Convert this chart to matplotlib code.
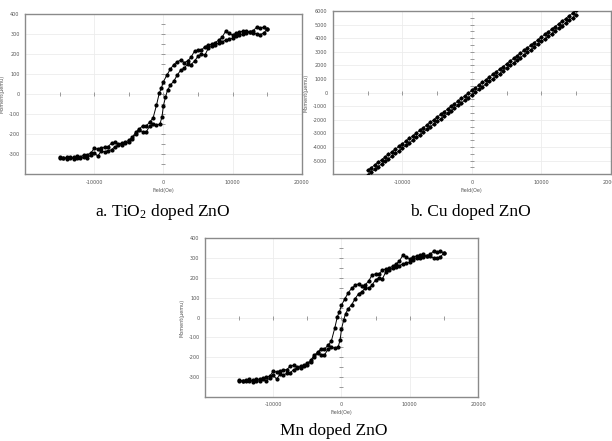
import numpy as np
import matplotlib
matplotlib.use('Agg')
from matplotlib import pyplot as plt


# hysteresis loop (TiO2 doped and Mn doped look the same in the picture)
field_up = [-15000, -14500, -14000, -13500, -13000, -12500, -12000, -11500, -11000, -10500,
            -10000, -9500, -9000, -8500, -8000, -7500, -7000, -6500, -6000, -5500,
            -5000, -4500, -4000, -3500, -3000, -2500, -2000, -1500, -1000, -500,
            -200, 0, 300, 600, 1000, 1500, 2000, 2500, 3000, 3500,
            4000, 4500, 5000, 5500, 6000, 6500, 7000, 7500, 8000, 8500,
            9000, 9500, 10000, 10500, 11000, 11500, 12000, 12500, 13000, 13500,
            14000, 14500, 15000]
moment_up = [-315, -318, -322, -312, -325, -318, -320, -312, -318, -305,
             -292, -310, -285, -288, -282, -278, -262, -255, -252, -245,
             -238, -222, -198, -180, -188, -190, -160, -148, -155, -150,
             -112, -58, -15, 20, 45, 65, 95, 120, 130, 150,
             148, 165, 190, 200, 195, 230, 240, 248, 255, 262,
             270, 275, 280, 290, 298, 300, 305, 310, 308, 300,
             298, 305, 325]

field_down = [15000, 14500, 14000, 13500, 13000, 12500, 12000, 11500, 11000, 10500,
              10000, 9500, 9000, 8500, 8000, 7500, 7000, 6500, 6000, 5500,
              5000, 4500, 4000, 3500, 3000, 2500, 2000, 1500, 1000, 500,
              0, -300, -600, -1000, -1500, -2000, -2500, -3000, -3500, -4000,
              -4500, -5000, -5500, -6000, -6500, -7000, -7500, -8000, -8500, -9000,
              -9500, -10000, -10500, -11000, -11500, -12000, -12500, -13000, -13500, -14000,
              -14500, -15000]
moment_down = [325, 335, 330, 335, 318, 310, 318, 315, 310, 305,
               295, 305, 315, 285, 270, 258, 250, 245, 238, 220,
               220, 215, 185, 165, 158, 170, 162, 148, 125, 95,
               62, 30, 5, -55, -120, -140, -160, -158, -175, -190,
               -215, -230, -240, -245, -248, -240, -245, -262, -265, -268,
               -275, -270, -295, -302, -305, -312, -310, -315, -320, -316,
               -320, -318]

# Cu doped: two almost straight parallel lines
cu_field = [-15000, -14500, -14000, -13500, -13000, -12500, -12000, -11500, -11000, -10500,
            -10000, -9500, -9000, -8500, -8000, -7500, -7000, -6500, -6000, -5500,
            -5000, -4500, -4000, -3500, -3000, -2500, -2000, -1500, -1000, -500,
            0, 500, 1000, 1500, 2000, 2500, 3000, 3500, 4000, 4500,
            5000, 5500, 6000, 6500, 7000, 7500, 8000, 8500, 9000, 9500,
            10000, 10500, 11000, 11500, 12000, 12500, 13000, 13500, 14000, 14500,
            15000]
cu_upper = [-5720, -5525, -5330, -5130, -4935, -4740, -4545, -4350, -4155, -3960,
            -3760, -3565, -3370, -3175, -2980, -2780, -2585, -2390, -2195, -2000,
            -1800, -1605, -1410, -1215, -1020, -820, -625, -430, -235, -40,
            160, 355, 550, 745, 940, 1140, 1335, 1530, 1725, 1920,
            2120, 2315, 2510, 2705, 2900, 3100, 3295, 3490, 3685, 3880,
            4080, 4275, 4470, 4665, 4860, 5060, 5255, 5450, 5645, 5840,
            6040]
cu_lower = [-6040, -5845, -5650, -5450, -5255, -5060, -4865, -4670, -4475, -4280,
            -4080, -3885, -3690, -3495, -3300, -3100, -2905, -2710, -2515, -2320,
            -2120, -1925, -1730, -1535, -1340, -1140, -945, -750, -555, -360,
            -160, 35, 230, 425, 620, 820, 1015, 1210, 1405, 1600,
            1800, 1995, 2190, 2385, 2580, 2780, 2975, 3170, 3365, 3560,
            3760, 3955, 4150, 4345, 4540, 4740, 4935, 5130, 5325, 5520,
            5720]

captions = ['a. TiO$_2$ doped ZnO', 'b. Cu doped ZnO', 'Mn doped ZnO']

SANS = ['DejaVu Sans']


def make_panel(fig, rect, ymax, ystep, yminor):
    ax = fig.add_axes(rect)
    ax.set_xlim(-20000, 20000)
    ax.set_ylim(-ymax, ymax)
    ax.set_xticks([-20000, -10000, 0, 10000, 20000])
    ax.set_xticklabels(['', '-10000', '0', '10000', '20000'], family=SANS)
    yt = np.arange(-ymax, ymax + 1, ystep)
    ax.set_yticks(yt)
    ax.set_yticklabels([''] + [str(v) for v in yt[1:]], family=SANS)
    ax.tick_params(length=0, labelsize=3.5, labelcolor='#555555', pad=4)
    ax.grid(True, color='#ececec', lw=0.6)
    for s in ax.spines.values():
        s.set_color('#8a8a8a')
        s.set_linewidth(1.0)
    ax.set_xlabel('Field(Oe)', fontsize=3.5, color='#555555', labelpad=2, family=SANS)
    ax.set_ylabel('Moment(\u00b5emu)', fontsize=3.5, color='#555555', labelpad=3, family=SANS)
    ax.set_axisbelow(True)

    # the axis lines through the origin, with small ticks
    ax0 = fig.add_axes(rect, frameon=False)
    ax0.set_xlim(-20000, 20000)
    ax0.set_ylim(-ymax, ymax)
    ax0.patch.set_visible(False)
    for side in ['top', 'right']:
        ax0.spines[side].set_visible(False)
    for side in ['left', 'bottom']:
        ax0.spines[side].set_position(('data', 0))
        ax0.spines[side].set_visible(True)
        ax0.spines[side].set_color('#bdbdbd')
        ax0.spines[side].set_linewidth(0.8)
    ax0.set_xticks(np.arange(-15000, 15001, 5000))
    ax0.set_yticks(np.arange(-ymax + yminor, ymax, yminor))
    ax0.tick_params(direction='inout', length=2.5, width=0.6, color='#8a8a8a',
                    labelleft=False, labelbottom=False)
    return ax0


plt.rcParams['font.family'] = ['Liberation Serif', 'DejaVu Serif']
plt.rcParams['mathtext.fontset'] = 'custom'
plt.rcParams['mathtext.rm'] = 'Liberation Serif'
plt.rcParams['mathtext.default'] = 'rm'
fig = plt.figure(figsize=(6.12, 4.41), dpi=100)

ax_a = make_panel(fig, [0.041, 0.605, 0.452, 0.363], 400, 100, 50)
ax_a.plot(field_up, moment_up, color='black', lw=0.7, marker='o', ms=2.0, zorder=3)
ax_a.plot(field_down, moment_down, color='black', lw=0.7, marker='o', ms=2.0, zorder=3)

ax_b = make_panel(fig, [0.544, 0.605, 0.454, 0.370], 6000, 1000, 500)
ax_b.plot(cu_field, cu_upper, color='black', lw=0.6, marker='D', ms=1.7, zorder=3)
ax_b.plot(cu_field, cu_lower, color='black', lw=0.6, marker='D', ms=1.7, zorder=3)

ax_c = make_panel(fig, [0.335, 0.100, 0.446, 0.360], 400, 100, 50)
ax_c.plot(field_up, moment_up, color='black', lw=0.7, marker='o', ms=2.0, zorder=3)
ax_c.plot(field_down, moment_down, color='black', lw=0.7, marker='o', ms=2.0, zorder=3)

fig.text(0.265, 0.519, captions[0], ha='center', va='center', fontsize=12.5)
fig.text(0.768, 0.519, captions[1], ha='center', va='center', fontsize=12.5)
fig.text(0.546, 0.022, captions[2], ha='center', va='center', fontsize=12.5)

fig.savefig('out.png', dpi=100)
